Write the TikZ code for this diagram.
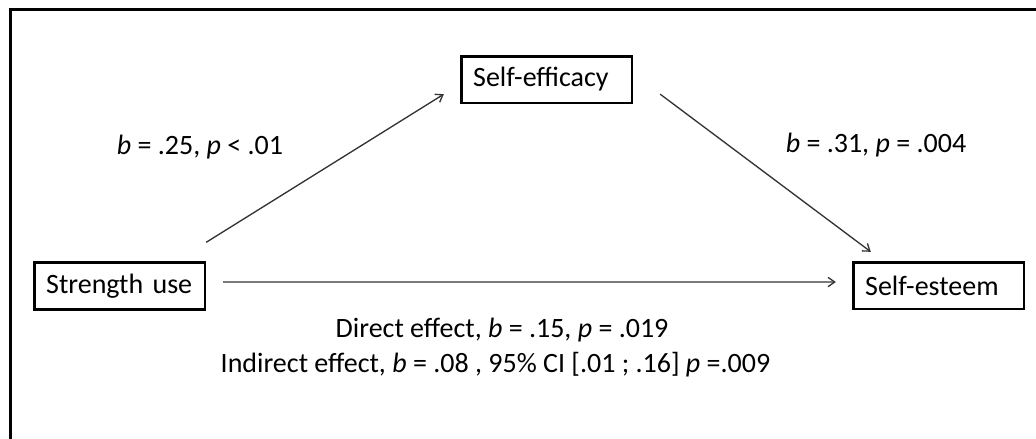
\documentclass[tikz,border=0pt]{standalone}
\usepackage{fontspec}
\setmainfont{Carlito}
\usetikzlibrary{arrows.meta}
\begin{document}
\begin{tikzpicture}[x=0.75pt, y=-0.75pt,
    font=\fontsize{21}{24}\selectfont,
    var/.style={draw, line width=2pt, text width=110pt, align=left, inner xsep=9pt, minimum height=35pt},
    path/.style={line width=1pt, black!80},
    >={Straight Barb[length=5pt, width=7pt]}]
    \useasboundingbox (0,0) rectangle (1036,439);
    \draw[line width=1.8pt] (10.5,439) -- (10.5,9.5) -- (1036,9.5);
    \node[var] (su) at (119.5,286) {Strength use};
    \node[var] (sef) at (546.5,79.5) {Self-efficacy};
    \node[var] (es) at (938.5,285.5) {Self-esteem};
    \draw[path, ->] ([yshift=14.25pt]su.north east) -- ([xshift=-12pt, yshift=7.5pt]sef.south west);
    \draw[path, ->] ([xshift=20.25pt, yshift=7.5pt]sef.south east) -- ([xshift=14.25pt, yshift=6.75pt]es.north west);
    \draw[path, ->] ([xshift=12.75pt, yshift=3pt]su.east) -- ([xshift=-12pt, yshift=2.6pt]es.west);
    \node[anchor=base] (lab1) at (200,154) {\textit{b} = .25, \textit{p} < .01};
    \node[anchor=base] (lab2) at (876,152) {\textit{b} = .31, \textit{p} = .004};
    \node[anchor=base west] (dir) at (331,337) {Direct effect, \textit{b} = .15, \textit{p} = .019};
    \node[anchor=base west] (ind) at (216,372) {Indirect effect, \textit{b} = .08 , 95\% CI [.01 ; .16] \textit{p} =.009};
\end{tikzpicture}
\end{document}
